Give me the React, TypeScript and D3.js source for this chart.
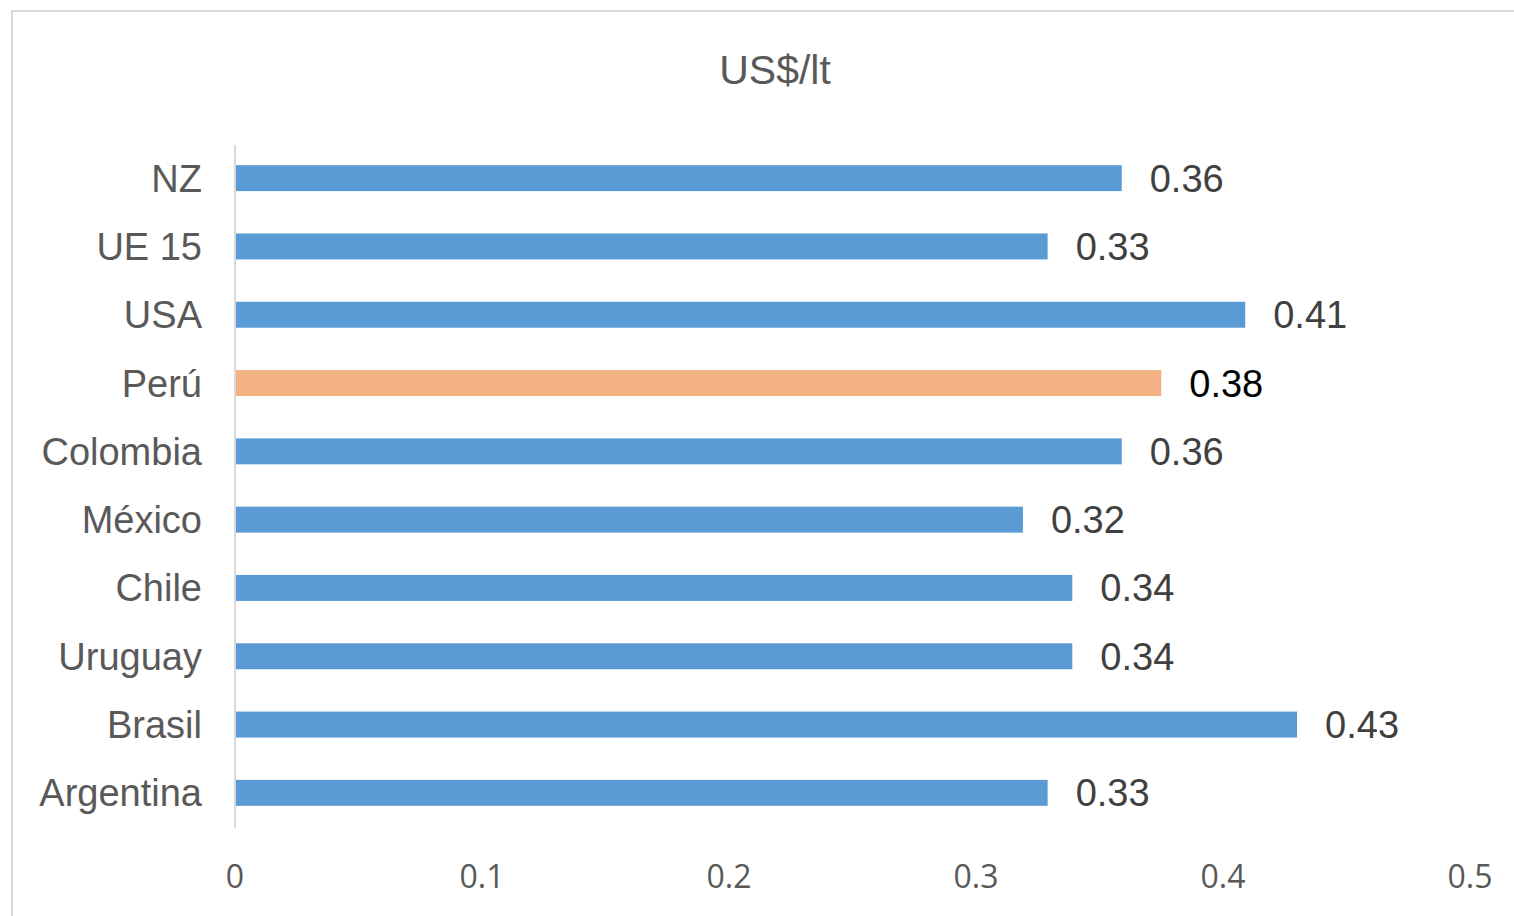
import React from "react";
import * as d3 from "d3";

const categories = ["NZ", "UE 15", "USA", "Perú", "Colombia", "México", "Chile", "Uruguay", "Brasil", "Argentina"];
const values = [0.359, 0.329, 0.409, 0.375, 0.359, 0.319, 0.339, 0.339, 0.43, 0.329];
const highlight = "Perú";
const xTicks = [0, 0.1, 0.2, 0.3, 0.4, 0.5];
const title = "US$/lt";

const W = 1514;
const H = 916;

export default function App() {
  const x = d3.scaleLinear().domain([0, 0.5]).range([235, 1470]);
  const y = d3.scaleBand<string>().domain(categories).range([144, 827]).paddingInner(0.62).paddingOuter(0.31);
  const fmt = d3.format(".2f");
  const font = "'Liberation Sans', Arial, sans-serif";
  return (
    <svg width={W} height={H} style={{ position: "absolute", left: 0, top: 0, background: "#fff" }}>
      <rect x={12} y={11} width={W + 20} height={H + 20} fill="#fff" stroke="#d9d9d9" strokeWidth={2} />
      <text x={775} y={84} textAnchor="middle" fontFamily={font} fontSize={41} fill="#595959">{title}</text>
      {categories.map((c, i) => {
        const yy = y(c)!;
        const bw = y.bandwidth();
        const isH = c === highlight;
        return (
          <g key={c}>
            <rect x={x(0)} y={yy} width={x(values[i]) - x(0)} height={bw} fill={isH ? "#f4b183" : "#5b9bd5"} />
            <text x={202} y={yy + bw / 2 + 13.5} textAnchor="end" fontFamily={font} fontSize={38} fill="#595959">{c}</text>
            <text x={x(values[i]) + 28} y={yy + bw / 2 + 13.5} fontFamily={font} fontSize={38} fill={isH ? "#000" : "#404040"}>{fmt(values[i])}</text>
          </g>
        );
      })}
      <line x1={x(0)} x2={x(0)} y1={145} y2={828} stroke="#d9d9d9" strokeWidth={2} />
      {xTicks.map((t) => (
        <text key={t} x={x(t)} y={888} textAnchor="middle" fontFamily="'Open Sans', sans-serif" fontSize={32} fill="#595959">{String(t)}</text>
      ))}
    </svg>
  );
}
